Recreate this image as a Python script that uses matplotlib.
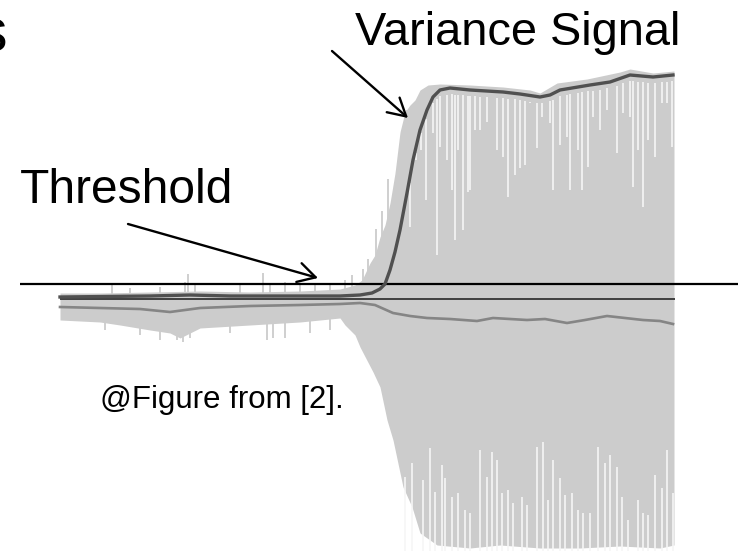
import numpy as np
import matplotlib
matplotlib.use("Agg")
import matplotlib.pyplot as plt
from matplotlib.patches import ArrowStyle

plt.rcParams['font.family'] = ['Liberation Sans', 'DejaVu Sans']

# ---- recorded signal (time in samples, amplitude in arbitrary units) ----
sig_t = [0, 40, 90, 140, 190, 240, 280, 295, 302, 310, 315, 320, 325, 330, 335, 340,
         345, 350, 355, 360, 368, 380, 410, 443, 470, 480, 497, 527, 560, 570, 593, 614]
sig_hi = [6, 6, 7, 8, 7, 8, 10, 14, 19, 36, 44, 62, 74, 96, 126, 167,
          187, 194, 199, 209, 214, 215, 214, 212, 209, 206, 216, 220, 227, 230, 226, 228]

low_t = [0, 40, 60, 90, 110, 120, 140, 190, 240, 280, 285, 295, 300, 313, 320, 327,
         333, 343, 352, 360, 377, 410, 440, 480, 520, 560, 600, 614]
sig_lo = [-21, -23, -26, -31, -34, -39, -29, -26, -23, -19, -26, -36, -48, -73, -88, -121,
          -141, -188, -208, -234, -246, -249, -246, -249, -249, -247, -249, -246]

# isolated excursions of the pre-onset noise
spike_up_t = [52, 70, 100, 125, 128, 135, 180, 203, 210, 225, 240, 255, 270, 285, 292,
              303, 308, 316, 322, 328, 343, 347]
spike_up_a = [14, 11, 12, 17, 25, 14, 14, 26, 16, 17, 16, 14, 16, 19, 24,
              30, 40, 70, 88, 120, 170, 189]
spike_dn_t = [45, 80, 100, 117, 123, 130, 170, 207, 213, 225, 250, 270]
spike_dn_a = [-31, -36, -41, -41, -43, -39, -34, -41, -39, -39, -34, -31]

# troughs of the positive half-cycles after onset
gap_hi_t = [350, 356, 361, 366, 373, 377, 380, 387, 392, 395, 398, 403, 408, 410, 415,
            420, 427, 437, 443, 448, 455, 460, 465, 470, 477, 482, 490, 493, 500, 507,
            510, 518, 522, 528, 533, 540, 547, 557, 563, 570, 573, 578, 583, 588, 595,
            602, 607, 612]
gap_hi_a = [72, 139, 149, 99, 166, 44, 152, 139, 109, 59, 149, 69, 107, 109, 169,
            169, 177, 149, 142, 102, 124, 131, 134, 196, 151, 182, 176, 109, 154, 162,
            109, 149, 109, 132, 182, 169, 189, 146, 186, 182, 112, 149, 92, 159, 142,
            196, 196, 152]

# peaks of the negative half-cycles after onset
gap_lo_t = [345, 352, 363, 370, 375, 382, 385, 392, 398, 405, 410, 420, 427, 432, 437,
            442, 448, 453, 462, 467, 477, 483, 488, 493, 500, 505, 512, 518, 523, 530,
            538, 545, 550, 557, 562, 568, 578, 583, 588, 595, 602, 607, 613]
gap_lo_a = [-178, -164, -181, -149, -193, -166, -179, -198, -194, -211, -214, -151, -178,
            -153, -161, -194, -191, -204, -198, -206, -148, -143, -201, -161, -179, -196,
            -194, -211, -214, -214, -148, -164, -156, -168, -198, -221, -201, -214, -216,
            -176, -189, -151, -194]

# smoothed mean of the signal
mean_t = [0, 40, 80, 110, 140, 190, 240, 280, 300, 315, 333, 350, 367, 390, 417, 433,
          450, 467, 485, 507, 525, 547, 565, 583, 600, 613]
mean_a = [-8, -9, -10, -13, -9, -7, -6, -5, -4, -6, -14, -17, -19, -20, -22, -19,
          -20, -21, -20, -24, -21, -17, -19, -21, -22, -25]

# variance signal
var_t = [0, 90, 130, 170, 240, 280, 300, 312, 320, 325, 330, 335, 340, 347, 353, 360,
         367, 373, 380, 390, 410, 443, 460, 480, 490, 500, 530, 550, 570, 593, 613]
var_a = [2, 3, 4, 3, 3, 3, 4, 6, 10, 15, 29, 47, 69, 106, 139, 169,
         189, 202, 209, 211, 209, 207, 205, 202, 204, 209, 214, 217, 224, 222, 224]

threshold = 15
t_end = 615

# ---- figure ----
W, H = 738, 551
fig = plt.figure(figsize=(W / 100, H / 100), dpi=100)
ax = fig.add_axes([0, 0, 1, 1])
ax.set_xlim(-60, 678)
ax.set_ylim(-252, 299)
ax.axis('off')

gray = '#cccccc'
grid_t = np.linspace(0, 614, 1400)
hi = np.interp(grid_t, sig_t, sig_hi)
lo = np.interp(grid_t, low_t, sig_lo)
ax.fill_between(grid_t, lo, hi, color=gray, lw=0)
ax.vlines(spike_up_t, 0, spike_up_a, color=gray, lw=1.3)
ax.vlines(spike_dn_t, spike_dn_a, 0, color=gray, lw=1.3)

gap_top = np.interp(gap_hi_t, var_t, var_a) - 6
ax.vlines(gap_hi_t, gap_hi_a, gap_top, color='#f6f6f6', lw=1.2)
ax.vlines(gap_lo_t, -252, gap_lo_a, color='#f6f6f6', lw=1.2)

ax.plot([0, t_end], [0, 0], color='#404040', lw=1.4, solid_capstyle='butt')
ax.plot([-40, 678], [threshold, threshold], color='black', lw=1.6, solid_capstyle='butt')
ax.plot(mean_t, mean_a, color='#858585', lw=1.9)
ax.plot(var_t, var_a, color='#505050', lw=2.4)


def px(x, y):
    return (x, H - y)


fig.text(355 / W, 1 - 45 / H, 'Variance Signal', fontsize=33.8, va='baseline', ha='left')
fig.text(20 / W, 1 - 203 / H, 'Threshold', fontsize=34.5, va='baseline', ha='left')
fig.text(100 / W, 1 - 408 / H, '@Figure from [2].', fontsize=22.5, va='baseline', ha='left')
fig.text(7 / W, 1 - 52 / H, 's', fontsize=44, va='baseline', ha='right')

style = ArrowStyle('->', head_length=1.25, head_width=0.7)
for start, tip in [((332, 51), (408, 118)), ((128, 224), (318, 278))]:
    ax.annotate('', xy=px(*tip), xycoords='figure pixels',
                xytext=px(*start), textcoords='figure pixels',
                arrowprops=dict(arrowstyle=style, mutation_scale=10, lw=1.7,
                                color='black', shrinkA=0, shrinkB=0))

fig.savefig('out.png', dpi=100)
